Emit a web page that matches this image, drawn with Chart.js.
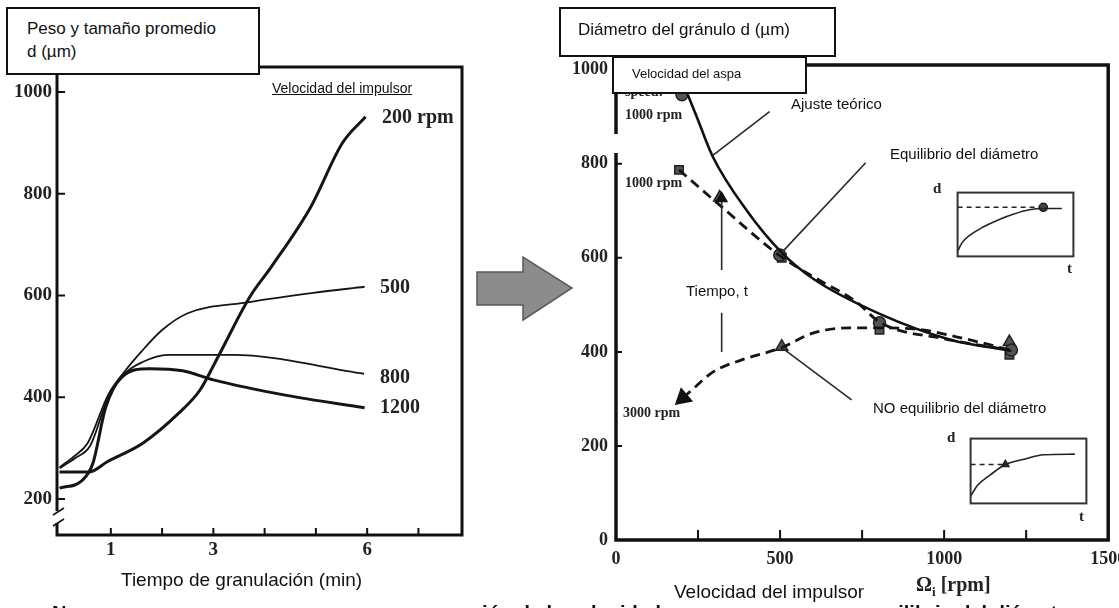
<!DOCTYPE html>
<html lang="es">
<head>
<meta charset="utf-8">
<title>Granulación</title>
<script src="https://cdn.jsdelivr.net/npm/chart.js@4.4.1/dist/chart.umd.min.js"></script>
<style>
  body { margin: 0; width: 1119px; height: 608px; position: relative; overflow: hidden; background: #fff; font-family: Arial, "Liberation Sans", sans-serif; color: #111; }
  canvas, .t, .box, svg { position: absolute; }
  .box { background: #fff; border: 2px solid #111; box-sizing: border-box; }
  .t { white-space: nowrap; line-height: 1.15; }
  .serif { font-family: "Liberation Serif", "Times New Roman", serif; font-weight: bold; color: #222; }
</style>
</head>
<body>
<canvas id="leftChart" width="480" height="608" style="left:0;top:0"></canvas>
<canvas id="rightChart" width="559" height="608" style="left:560px;top:0"></canvas>
<canvas id="inset1" width="127" height="75" style="left:952px;top:187px"></canvas>
<canvas id="inset2" width="127" height="76" style="left:965px;top:433px"></canvas>

<svg width="1119" height="608" style="left:0;top:0" viewBox="0 0 1119 608">
  <polygon points="477,272 523,272 523,257 572,288 523,320 523,305 477,305" fill="#8c8c8c" stroke="#5a5a5a" stroke-width="1.5"/>
</svg>

<!-- left panel texts -->
<div class="box" style="left:6px;top:7px;width:254px;height:68px"></div>
<div class="t" style="left:27px;top:19px;font-size:17px">Peso y tamaño promedio</div>
<div class="t" style="left:27px;top:42px;font-size:17px">d (µm)</div>
<div class="t" style="left:272px;top:80px;font-size:14px;text-decoration:underline">Velocidad del impulsor</div>
<div class="t serif" style="left:382px;top:105px;font-size:20px">200 rpm</div>
<div class="t serif" style="left:380px;top:275px;font-size:20px">500</div>
<div class="t serif" style="left:380px;top:365px;font-size:20px">800</div>
<div class="t serif" style="left:380px;top:395px;font-size:20px">1200</div>
<div class="t" style="left:121px;top:569px;font-size:19px">Tiempo de granulación (min)</div>

<!-- right panel texts -->
<div style="position:absolute;left:612px;top:134px;width:8px;height:19px;background:#fff"></div>
<div class="t serif" style="left:625px;top:84px;font-size:14px">speed:</div>
<div class="box" style="left:559px;top:7px;width:277px;height:50px"></div>
<div class="t" style="left:578px;top:20px;font-size:17px">Diámetro del gránulo d (µm)</div>
<div class="box" style="left:612px;top:56px;width:195px;height:38px"></div>
<div class="t" style="left:632px;top:67px;font-size:13px">Velocidad del aspa</div>
<div class="t serif" style="left:625px;top:107px;font-size:14px">1000 rpm</div>
<div class="t serif" style="left:625px;top:175px;font-size:14px">1000 rpm</div>
<div class="t serif" style="left:623px;top:405px;font-size:14px">3000 rpm</div>
<div class="t" style="left:791px;top:95px;font-size:15px">Ajuste teórico</div>
<div class="t" style="left:890px;top:145px;font-size:15px">Equilibrio del diámetro</div>
<div class="t" style="left:686px;top:282px;font-size:15px">Tiempo, t</div>
<div class="t" style="left:873px;top:399px;font-size:15px">NO equilibrio del diámetro</div>
<div class="t serif" style="left:933px;top:180px;font-size:15px">d</div>
<div class="t serif" style="left:1067px;top:260px;font-size:15px">t</div>
<div class="t serif" style="left:947px;top:429px;font-size:15px">d</div>
<div class="t serif" style="left:1079px;top:508px;font-size:15px">t</div>
<div class="t" style="left:674px;top:581px;font-size:19px">Velocidad del impulsor</div>
<div class="t serif" style="left:916px;top:573px;font-size:20px">Ω<sub style="font-size:13px">i</sub> [rpm]</div>

<!-- caption line cut by the frame edge -->
<div class="t" style="left:52px;top:602px;font-size:20px;font-weight:bold">N</div>
<div class="t" style="left:471px;top:602px;font-size:20px;font-weight:bold">ción de la velocidad</div>
<div class="t" style="left:886px;top:602px;font-size:20px;font-weight:bold">uilibrio del diámetro</div>

<script>
// Left panel: average size vs granulation time
const timeTicks = [1, 2, 3, 4, 5, 6, 7];
const timeTickLabels = [1, 3, 6];
const sizeTicks = [200, 400, 600, 800, 1000];

const t200 = [0, 0.58, 0.93, 1.63, 2.33, 2.74, 3.09, 3.71, 4.13, 4.9, 5.52, 5.97];
const d200 = [253, 253, 273, 310, 369, 414, 479, 597, 656, 774, 900, 951];
const t500 = [0, 0.3, 0.55, 0.95, 1.25, 1.6, 2.0, 2.5, 3.7, 4.95, 5.95];
const d500 = [262, 285, 310, 405, 448, 490, 532, 565, 587, 605, 617];
const t800 = [0, 0.3, 0.6, 0.95, 1.28, 1.62, 2.11, 3.36, 5.94];
const d800 = [260, 280, 305, 400, 447, 469, 483, 483, 446];
const t1200 = [0, 0.45, 0.65, 0.9, 1.2, 1.75, 2.4, 3.0, 4.4, 5.95];
const d1200 = [221, 237, 270, 380, 438, 456, 452, 434, 404, 379];

// Right panel: granule diameter vs impeller speed
const rpmTicks = [0, 250, 500, 750, 1000, 1250, 1500];
const rpmTickLabels = [0, 500, 1000, 1500];
const diamTicks = [0, 200, 400, 600, 800, 1000];

const fitRpm = [185, 213, 246, 295, 399, 505, 602, 800, 1019, 1205];
const fitD = [1005, 957, 900, 815, 700, 611, 555, 482, 426, 402];
const eqRpm = [192, 316, 500, 611, 733, 806, 1000, 1199];
const eqD = [787, 712, 604, 556, 506, 462, 428, 404];
const noEqRpm = [204, 231, 295, 383, 505, 600, 712, 806, 934, 1037, 1117, 1199];
const noEqD = [302, 319, 357, 383, 409, 440, 451, 451, 447, 432, 419, 404];

const circleRpm = [201, 499, 803, 1205];
const circleD = [947, 606, 462, 404];
const squareRpm = [192, 505, 803, 1199];
const squareD = [787, 600, 447, 394];
const triRpm = [316, 505, 1199];
const triD = [728, 411, 421];

// leader lines for the labels (rpm, d)
const leaderFit = [[295, 818], [468, 911]];
const leaderEq = [[505, 611], [761, 802]];
const leaderNoEq = [[505, 409], [718, 298]];
const timeArrow = [[322, 574], [322, 726]];
const timeStem = [[322, 400], [322, 483]];

// insets (arbitrary units 0-100)
const in1T = [0, 4, 12, 22, 36, 48, 62, 74, 90];
const in1D = [8, 22, 35, 46, 58, 66, 73, 75, 75];
const in1Ref = 77, in1RefEnd = 74;
const in2T = [0, 6, 17, 30, 46, 63, 90];
const in2D = [11, 28, 44, 60, 68, 75, 76];
const in2Ref = 60, in2RefEnd = 30;

const zip = (xs, ys) => xs.map((x, i) => ({ x, y: ys[i] }));
const pairs = arr => arr.map(p => ({ x: p[0], y: p[1] }));

const tickFont = { family: '"Liberation Serif", "Times New Roman", serif', size: 19, weight: 'bold' };

// frame + inward tick marks
const framePlugin = {
  id: 'frame',
  afterDatasetsDraw(chart, args, opts) {
    const { ctx, chartArea: a, scales: { x, y } } = chart;
    ctx.save();
    ctx.strokeStyle = '#111';
    ctx.lineWidth = opts.width || 3;
    ctx.strokeRect(a.left, a.top, a.right - a.left, a.bottom - a.top);
    ctx.lineWidth = 2;
    ctx.beginPath();
    x.ticks.forEach(t => {
      const px = x.getPixelForValue(t.value);
      ctx.moveTo(px, a.bottom);
      ctx.lineTo(px, a.bottom - opts.xTick);
    });
    y.ticks.forEach(t => {
      const py = y.getPixelForValue(t.value);
      ctx.moveTo(a.left, py);
      ctx.lineTo(a.left + opts.yTick, py);
    });
    ctx.stroke();
    if (opts.axisBreak) {
      const b = a.bottom, l = a.left;
      ctx.fillStyle = '#fff';
      ctx.fillRect(l - 3, b - 24, 7, 12);
      ctx.lineWidth = 1.5;
      ctx.beginPath();
      ctx.moveTo(l - 4, b - 20); ctx.lineTo(l + 7, b - 27);
      ctx.moveTo(l - 4, b - 9); ctx.lineTo(l + 7, b - 16);
      ctx.stroke();
    }
    ctx.restore();
  }
};

function fixedAxis(size, isX) {
  return scale => {
    if (isX) scale.height = size; else scale.width = size;
    scale.paddingLeft = 0; scale.paddingRight = 0;
    scale.paddingTop = 0; scale.paddingBottom = 0;
  };
}

const curve = (label, xs, ys, w) => ({
  label, data: zip(xs, ys), borderColor: '#151515', borderWidth: w,
  pointRadius: 0, tension: 0.4, cubicInterpolationMode: 'monotone', fill: false
});

new Chart(document.getElementById('leftChart'), {
  type: 'line',
  data: {
    datasets: [
      curve('200 rpm', t200, d200, 3),
      curve('500', t500, d500, 1.8),
      curve('800', t800, d800, 1.8),
      curve('1200', t1200, d1200, 3)
    ]
  },
  options: {
    responsive: false, animation: false, devicePixelRatio: 1,
    layout: { padding: { left: 7, top: 67, right: 18, bottom: 43 } },
    plugins: { legend: { display: false }, tooltip: { enabled: false },
      frame: { width: 3, xTick: 7, yTick: 8, axisBreak: true } },
    scales: {
      x: {
        type: 'linear', min: -0.05, max: 7.85,
        grid: { display: false, drawTicks: false }, border: { display: false },
        afterBuildTicks: s => { s.ticks = timeTicks.map(v => ({ value: v })); },
        afterFit: fixedAxis(30, true),
        ticks: { font: tickFont, color: '#222', padding: 4, maxRotation: 0, autoSkip: false,
          callback: v => timeTickLabels.includes(v) ? String(v) : '' }
      },
      y: {
        type: 'linear', min: 129, max: 1049,
        grid: { display: false, drawTicks: false }, border: { display: false },
        afterBuildTicks: s => { s.ticks = sizeTicks.map(v => ({ value: v })); },
        afterFit: fixedAxis(50, false),
        ticks: { font: tickFont, color: '#222', padding: 5, callback: v => String(v) }
      }
    }
  },
  plugins: [framePlugin]
});

const dashed = (label, xs, ys) => ({
  label, data: zip(xs, ys), borderColor: '#151515', borderWidth: 2.8, borderDash: [10, 6],
  pointRadius: 0, tension: 0.4, cubicInterpolationMode: 'monotone', fill: false
});
const markers = (label, xs, ys, style, r) => ({
  label, data: zip(xs, ys), showLine: false, pointStyle: style, pointRadius: r,
  pointBackgroundColor: '#555', pointBorderColor: '#222', pointBorderWidth: 1.5
});
const leader = (label, pts, extra) => Object.assign({
  label, data: pairs(pts), borderColor: '#2a2a2a', borderWidth: 1.6, pointRadius: 0, tension: 0
}, extra || {});

const noEq = dashed('NO equilibrio', noEqRpm, noEqD);
noEq.pointRadius = noEqRpm.map((v, i) => i === 0 ? 8 : 0);
noEq.pointStyle = 'triangle';
noEq.pointRotation = 229;
noEq.pointBackgroundColor = '#111';
noEq.pointBorderColor = '#111';

new Chart(document.getElementById('rightChart'), {
  type: 'line',
  data: {
    datasets: [
      leader('ajuste', leaderFit),
      leader('equilibrio', leaderEq),
      leader('no equilibrio', leaderNoEq),
      leader('tiempo', timeArrow, { pointRadius: [0, 6], pointStyle: 'triangle', pointBackgroundColor: '#111', pointBorderColor: '#111' }),
      leader('tiempo2', timeStem),
      { label: 'Ajuste teórico', data: zip(fitRpm, fitD), borderColor: '#111', borderWidth: 2.6,
        pointRadius: 0, tension: 0.4, cubicInterpolationMode: 'monotone', fill: false },
      dashed('Equilibrio', eqRpm, eqD),
      noEq,
      markers('circulos', circleRpm, circleD, 'circle', 6),
      markers('cuadrados', squareRpm, squareD, 'rect', 6),
      markers('triangulos', triRpm, triD, 'triangle', 7)
    ]
  },
  options: {
    responsive: false, animation: false, devicePixelRatio: 1,
    layout: { padding: { left: 6, top: 65, right: 10, bottom: 38 } },
    plugins: { legend: { display: false }, tooltip: { enabled: false },
      frame: { width: 3.5, xTick: 10, yTick: 6 } },
    scales: {
      x: {
        type: 'linear', min: 0, max: 1500,
        grid: { display: false, drawTicks: false }, border: { display: false },
        afterBuildTicks: s => { s.ticks = rpmTicks.map(v => ({ value: v })); },
        afterFit: fixedAxis(30, true),
        ticks: { font: { ...tickFont, size: 18 }, color: '#222', padding: 9, maxRotation: 0, autoSkip: false,
          callback: v => rpmTickLabels.includes(v) ? String(v) : '' }
      },
      y: {
        type: 'linear', min: 0, max: 1010,
        grid: { display: false, drawTicks: false }, border: { display: false },
        afterBuildTicks: s => { s.ticks = diamTicks.map(v => ({ value: v })); },
        afterFit: fixedAxis(50, false),
        ticks: { font: { ...tickFont, size: 18 }, color: '#222', padding: 8, callback: v => String(v) }
      }
    }
  },
  plugins: [framePlugin]
});

const insetFrame = {
  id: 'insetFrame',
  afterDraw(chart) {
    const { ctx, chartArea: a } = chart;
    ctx.save();
    ctx.strokeStyle = '#333';
    ctx.lineWidth = 2;
    ctx.strokeRect(a.left, a.top, a.right - a.left, a.bottom - a.top);
    ctx.restore();
  }
};

function inset(id, ts, ds, ref, refEnd, style) {
  new Chart(document.getElementById(id), {
    type: 'line',
    data: {
      datasets: [
        { data: zip(ts, ds), borderColor: '#222', borderWidth: 1.6, pointRadius: 0,
          tension: 0.4, cubicInterpolationMode: 'monotone' },
        { data: [{ x: 0, y: ref }, { x: refEnd, y: ref }], borderColor: '#222', borderWidth: 1.6,
          borderDash: [5, 4], pointRadius: [0, 4], pointStyle: style,
          pointBackgroundColor: '#444', pointBorderColor: '#222' }
      ]
    },
    options: {
      responsive: false, animation: false, devicePixelRatio: 1,
      layout: { padding: 1 },
      plugins: { legend: { display: false }, tooltip: { enabled: false } },
      scales: {
        x: { type: 'linear', min: 0, max: 100, display: false },
        y: { type: 'linear', min: 0, max: 100, display: false }
      }
    },
    plugins: [insetFrame]
  });
}
inset('inset1', in1T, in1D, in1Ref, in1RefEnd, 'circle');
inset('inset2', in2T, in2D, in2Ref, in2RefEnd, 'triangle');
</script>
</body>
</html>
